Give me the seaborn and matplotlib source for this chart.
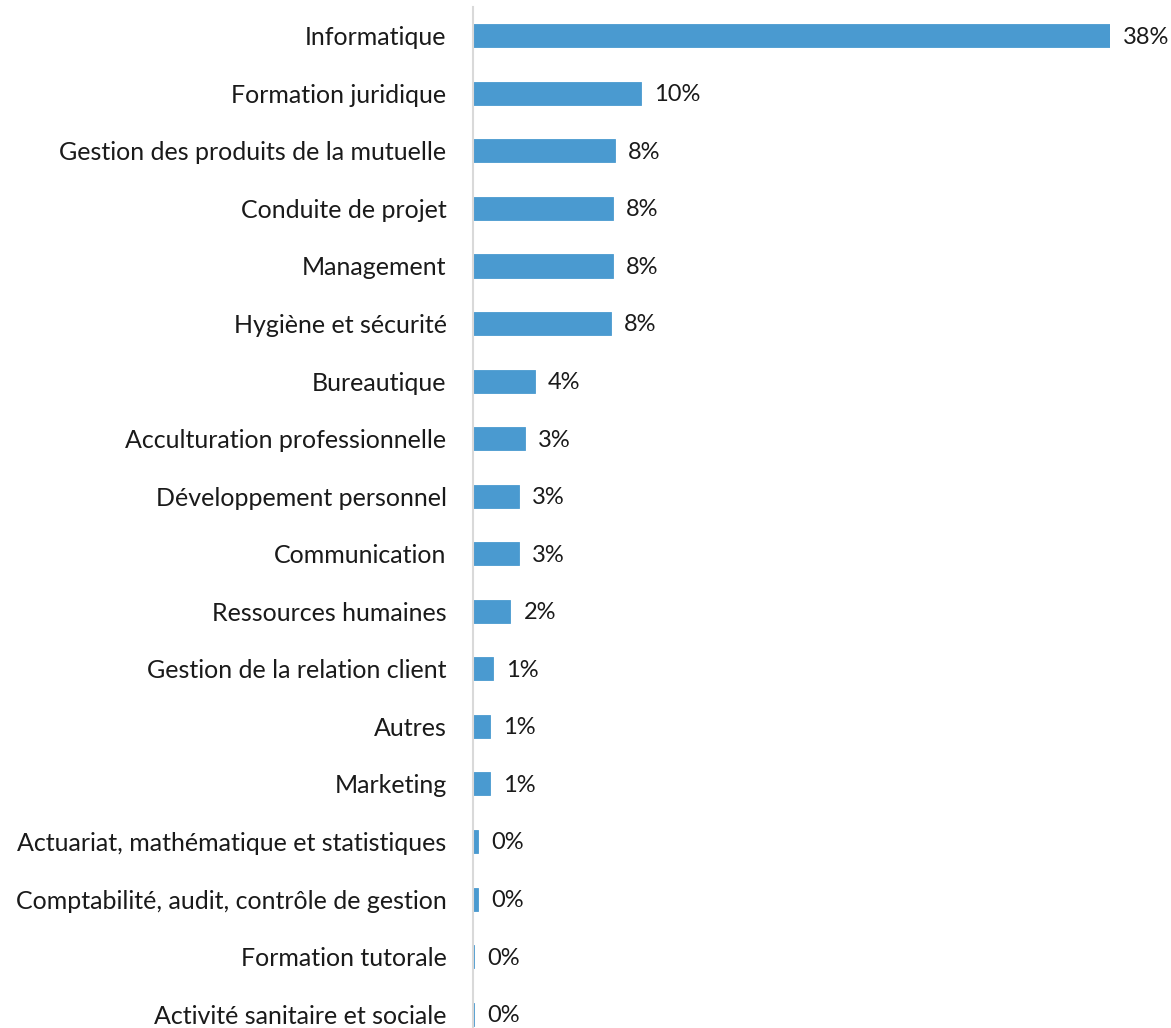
import pandas as pd
import numpy as np
import matplotlib
matplotlib.use("Agg")
import matplotlib.pyplot as plt
import seaborn as sns

# --- data ---
themes = [
    "Informatique", "Formation juridique", "Gestion des produits de la mutuelle",
    "Conduite de projet", "Management", "Hygiène et sécurité", "Bureautique",
    "Acculturation professionnelle", "Développement personnel", "Communication",
    "Ressources humaines", "Gestion de la relation client", "Autres", "Marketing",
    "Actuariat, mathématique et statistiques", "Comptabilité, audit, contrôle de gestion",
    "Formation tutorale", "Activité sanitaire et sociale",
]
shares = [38.0, 10.04, 8.48, 8.34, 8.34, 8.24, 3.70, 3.08, 2.72, 2.72,
          2.23, 1.17, 1.03, 1.03, 0.32, 0.32, 0.08, 0.08]
labels = ["38%", "10%", "8%", "8%", "8%", "8%", "4%", "3%", "3%", "3%",
          "2%", "1%", "1%", "1%", "0%", "0%", "0%", "0%"]

df = pd.DataFrame({"theme": themes, "share": shares, "label": labels})

sns.set_style("white")
plt.rcParams['font.family'] = ['Lato', 'DejaVu Sans']

W, H = 1171, 1028
fig = plt.figure(figsize=(W / 100, H / 100), dpi=100)
ax = fig.add_axes([473 / W, 0, (1110 - 473) / W, (1028 - 7) / H])

sns.barplot(data=df, x="share", y="theme", orient="h", color="#4A9AD0",
            saturation=1, width=0.4, edgecolor="#4A9AD0", linewidth=0.6, ax=ax)

ax.set_xlim(0, 38.0)
ax.set_ylim(17.24, -0.5)

# value labels, a bit right of each bar end
for i, row in df.iterrows():
    ax.annotate(row["label"], xy=(row["share"], i), xytext=(9.5, -1),
                textcoords="offset points", va="center", ha="left",
                fontsize=17, color="#1a1a1a", annotation_clip=False)

ax.set_xlabel("")
ax.set_ylabel("")
ax.set_xticks([])
ax.tick_params(axis="y", length=0, pad=19, labelsize=18, labelcolor="#1a1a1a")
for s in ["top", "right", "bottom"]:
    ax.spines[s].set_visible(False)
ax.spines["left"].set_color("#D9D9D9")
ax.spines["left"].set_linewidth(1.5)

fig.savefig("out.png", dpi=100)
